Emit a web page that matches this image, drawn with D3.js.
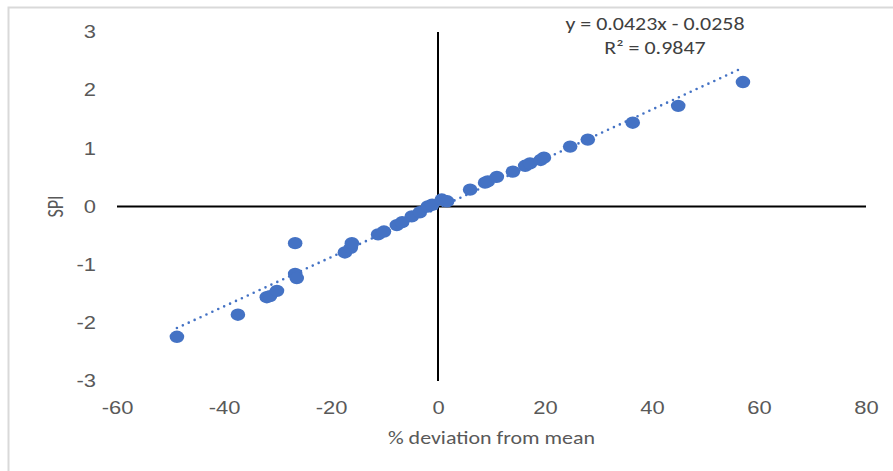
<!DOCTYPE html>
<html>
<head>
<meta charset="utf-8">
<script src="https://cdn.jsdelivr.net/npm/d3@7"></script>
<style>
  body { margin: 0; background: #fff; }
  svg { display: block; font-family: Carlito, Calibri, "Open Sans", sans-serif; }
</style>
</head>
<body>
<svg width="893" height="471"></svg>
<script>
// % deviation from mean vs SPI
const deviation = [
  -48.8, -37.4, -32.0, -31.4, -30.1, -26.7, -26.7, -26.4, -17.4, -16.3,
  -16.1, -11.2, -10.1, -7.7, -6.7, -4.9, -3.4, -1.9, -1.1, 0.7,
  1.7, 6.0, 8.8, 9.3, 11.0, 14.0, 16.3, 17.2, 19.2, 19.8,
  24.7, 28.0, 36.4, 44.9, 57.0
];
const spi = [
  -2.24, -1.86, -1.56, -1.54, -1.45, -0.63, -1.16, -1.23, -0.79, -0.71,
  -0.63, -0.48, -0.43, -0.32, -0.27, -0.17, -0.10, 0.00, 0.03, 0.12,
  0.09, 0.29, 0.41, 0.43, 0.51, 0.60, 0.70, 0.74, 0.80, 0.84,
  1.03, 1.15, 1.44, 1.73, 2.14
];
const xTicks = [-60, -40, -20, 0, 20, 40, 60, 80];
const yTicks = [-3, -2, -1, 0, 1, 2, 3];
const slope = 0.0423, intercept = -0.0258;
const equationText = "y = 0.0423x - 0.0258";
const r2Text = "R² = 0.9847";

// the source picture is a bit stretched sideways, text too
const stretch = 1.22;
const fontSize = 18;
const textColor = "#595959";

const svg = d3.select("svg");

// outer chart frame
svg.append("rect")
    .attr("x", 8.5).attr("y", 7.5)
    .attr("width", 920).attr("height", 500)
    .attr("fill", "none")
    .attr("stroke", "#d9d9d9")
    .attr("stroke-width", 2);

const x = d3.scaleLinear().domain([-60, 80]).range([117, 866]);
const y = d3.scaleLinear().domain([-3, 3]).range([381, 32]);

// tick labels (no tick marks, labels sit at the plot edges)
svg.append("g")
    .attr("transform", `translate(0,${y(-3) + 27})`)
    .call(d3.axisBottom(x).tickValues(xTicks).tickFormat(d => String(d))
        .tickSize(0).tickPadding(0))
    .call(g => g.select(".domain").remove())
    .call(g => g.selectAll("text")
        .attr("font-size", fontSize).attr("fill", textColor)
        .attr("dy", "0.32em")
        .attr("transform", `scale(${stretch},1)`));

svg.append("g")
    .attr("transform", `translate(96,0)`)
    .call(d3.axisLeft(y).tickValues(yTicks).tickFormat(d => String(d))
        .tickSize(0).tickPadding(0))
    .call(g => g.select(".domain").remove())
    .call(g => g.selectAll("text")
        .attr("font-size", fontSize).attr("fill", textColor)
        .attr("transform", `scale(${stretch},1)`));

// axes through the origin
svg.append("line")
    .attr("x1", x(-60)).attr("x2", x(80))
    .attr("y1", y(0)).attr("y2", y(0))
    .attr("stroke", "#000").attr("stroke-width", 2);
svg.append("line")
    .attr("x1", x(0)).attr("x2", x(0))
    .attr("y1", y(3)).attr("y2", y(-3))
    .attr("stroke", "#000").attr("stroke-width", 2);

// linear trendline over the data range
const xMin = d3.min(deviation), xMax = d3.max(deviation);
svg.append("line")
    .attr("x1", x(xMin)).attr("y1", y(slope * xMin + intercept))
    .attr("x2", x(xMax)).attr("y2", y(slope * xMax + intercept))
    .attr("stroke", "#4472c4")
    .attr("stroke-width", 2.6)
    .attr("stroke-linecap", "round")
    .attr("stroke-dasharray", "0 6.5");

// points
svg.append("g")
  .selectAll("ellipse")
  .data(d3.zip(deviation, spi))
  .join("ellipse")
    .attr("cx", d => x(d[0]))
    .attr("cy", d => y(d[1]))
    .attr("rx", 7.3)
    .attr("ry", 6.2)
    .attr("fill", "#4472c4");

// trendline equation
const eq = svg.append("g")
    .attr("transform", `translate(655,0) scale(${stretch},1)`)
    .attr("text-anchor", "middle")
    .attr("font-size", fontSize)
    .attr("fill", "#404040");
eq.append("text").attr("y", 30).text(equationText);
eq.append("text").attr("y", 54).text(r2Text);

// axis titles
svg.append("text")
    .attr("transform", `translate(${(x(-60) + x(80)) / 2},444) scale(${stretch},1)`)
    .attr("text-anchor", "middle")
    .attr("font-size", fontSize).attr("fill", textColor)
    .text("% deviation from mean");
svg.append("text")
    .attr("transform", `translate(63,${y(0)}) rotate(-90) scale(1,${stretch})`)
    .attr("text-anchor", "middle")
    .attr("font-size", fontSize).attr("fill", textColor)
    .text("SPI");
</script>
</body>
</html>
